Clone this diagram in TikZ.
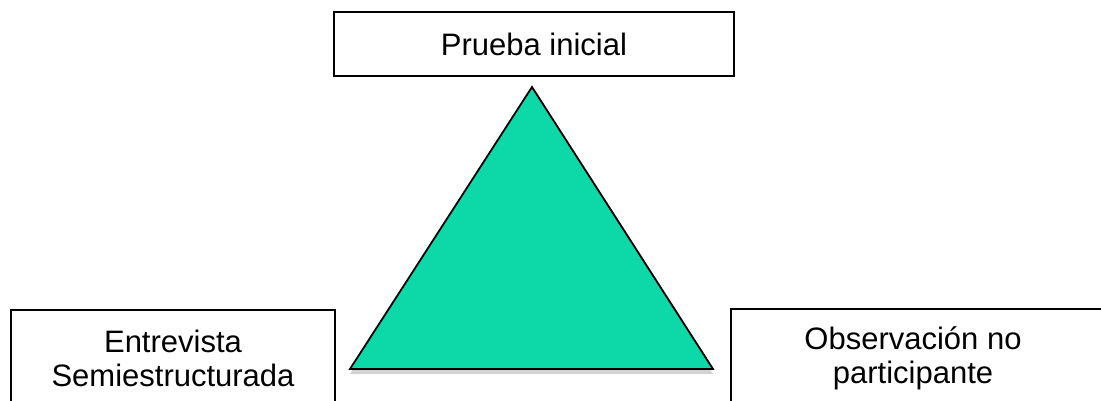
\documentclass[tikz,border=0pt]{standalone}
\usepackage{fontspec}
\setmainfont{Liberation Sans}
\usetikzlibrary{positioning, shadows}
\definecolor{trigreen}{RGB}{12,217,167}

\begin{document}
\begin{tikzpicture}[x=1pt, y=-1pt,
    method/.style={rectangle, draw, line width=1.3pt, inner sep=0pt},
    methodtext/.style={font=\fontsize{31}{34}\selectfont, align=center},
    tri/.style={draw, line width=1.8pt, line join=miter, fill=trigreen,
        drop shadow={shadow xshift=0pt, shadow yshift=-5pt, opacity=0.35}}
]
\useasboundingbox (0,0) rectangle (1101,401);
\clip (0,0) rectangle (1101,401);

\node[method, minimum width=400pt, minimum height=64pt, methodtext] (prueba) at (534,44) {Prueba inicial};
\node[method, minimum width=324pt, minimum height=130pt] (entrevista) at (173,375) {};
\node[method, minimum width=400pt, minimum height=130pt] (observacion) at (931,374) {};
\node[methodtext] (entrevistatxt) at (173,358) {Entrevista\\Semiestructurada};
\node[methodtext] (observaciontxt) at (913,358) {Observación no\\participante};

\coordinate (apex) at (532,87);
\coordinate (baseL) at (350,369);
\coordinate (baseR) at (713,369);
\draw[tri] (apex) -- (baseR) -- (baseL) -- cycle;
\end{tikzpicture}
\end{document}
